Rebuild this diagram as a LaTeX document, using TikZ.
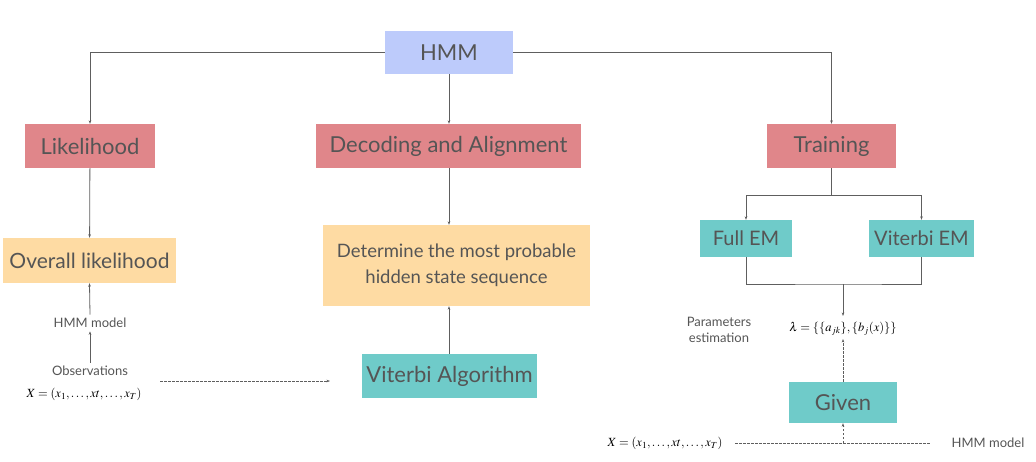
\documentclass[tikz,border=0pt]{standalone}
\usepackage{mathptmx}
\usepackage{fontspec}
\setmainfont{Lato}
\usetikzlibrary{arrows.meta,positioning}

\definecolor{topblue}{HTML}{BDCBFB}
\definecolor{taskred}{HTML}{E0868A}
\definecolor{resyellow}{HTML}{FEDBA3}
\definecolor{algteal}{HTML}{6FCBC9}
\definecolor{txtgray}{HTML}{555555}
\definecolor{linegray}{HTML}{5E5E5E}

\tikzset{
  box/.style={inner sep=0pt, text=txtgray, font=\fontsize{22}{26}\selectfont},
  topbox/.style={box, fill=topblue, minimum width=128pt, minimum height=43pt},
  taskbox/.style={box, fill=taskred, minimum height=44pt},
  resbox/.style={box, fill=resyellow},
  algbox/.style={box, fill=algteal},
  note/.style={text=txtgray, font=\fontsize{13}{16}\selectfont, align=center},
  formula/.style={text=black, font=\fontsize{12.5}{15}\selectfont},
  conn/.style={draw=linegray, line width=0.8pt, -{Stealth[length=3.5pt,width=2.6pt]}},
  plain/.style={draw=linegray, line width=0.8pt},
  dconn/.style={conn, dashed, dash pattern=on 2.5pt off 1.5pt},
}

\begin{document}
\begin{tikzpicture}[x=1pt,y=-1pt]

  \useasboundingbox (0,0) rectangle (1036,461);

  % Top level
  \node [topbox] (HMM) at (449,52.5) {HMM};

  % Tasks
  \node [taskbox, minimum width=130pt] (LH) at (90,146) {Likelihood};
  \node [taskbox, minimum width=265pt] (DA) at (448.5,146) {Decoding and Alignment};
  \node [taskbox, minimum width=129pt] (TR) at (831.5,146) {Training};

  % Results
  \node [resbox, minimum width=173pt, minimum height=45pt, font=\fontsize{21}{25}\selectfont] (OL) at (89.5,260.5) {Overall likelihood};
  \node [resbox, minimum width=267pt, minimum height=81pt, align=center,
         font=\fontsize{18.5}{25.5}\selectfont] (DS) at (456.5,265.5)
        {Determine the most probable\\hidden state sequence};

  % Algorithms
  \node [algbox, minimum width=175pt, minimum height=44pt] (VA) at (449.5,376) {Viterbi Algorithm};
  \node [algbox, minimum width=92pt, minimum height=37pt, font=\fontsize{20}{24}\selectfont] (FE) at (746,238.5) {Full EM};
  \node [algbox, minimum width=105pt, minimum height=37pt, font=\fontsize{20}{24}\selectfont] (VE) at (921.5,238.5) {Viterbi EM};
  \node [algbox, minimum width=108pt, minimum height=41pt] (GV) at (843,402.5) {Given};

  % Labels
  \node [note] (HM1) at (90,323) {HMM model};
  \node [note] (OBS) at (90,371) {Observations};
  \node [formula] (X1) at (84,394) {$X=(x_1,\ldots,xt,\ldots,x_T)$};
  \node [note] (PE) at (719,330) {Parameters\\estimation};
  \node [formula] (LAM) at (843,329) {$\lambda=\{\{a_{jk}\},\{b_j(x)\}\}$};
  \node [formula] (X2) at (665,443) {$X=(x_1,\ldots,xt,\ldots,x_T)$};
  \node [note] (HM2) at (988,443) {HMM model};

  % Top connectors
  \draw [conn] (HMM.west) -| (LH.north);
  \draw [conn] (HMM.east) -| (TR.north);
  \draw [conn] (HMM.south) -- (DA.north -| HMM.south);

  % Likelihood branch
  \draw [conn] (LH) -- (OL);
  \draw [conn] (HM1.north) -- (OL.south);
  \draw [conn] (OBS.north) -- (HM1.south);
  \draw [dconn] (160,381) -- (330,381);

  % Decoding branch
  \draw [conn] (DA.south -| HMM.south) -- (DS.north -| HMM.south);
  \draw [conn] (VA.north -| HMM.south) -- (DS.south -| HMM.south);

  % Training branch
  \coordinate (TRS) at (831.5,195);
  \draw [plain] (TR.south) -- (TRS);
  \draw [conn] (TRS) -| (FE.north);
  \draw [conn] (TRS) -| (VE.north);
  \coordinate (EMJ) at (843,284);
  \draw [plain] (FE.south) |- (EMJ) -| (VE.south);
  \draw [conn] (EMJ) -- (843,316);
  \draw [dconn] (GV.north) -- (843,339);

  % Bottom inputs
  \coordinate (BL) at (735,443);
  \coordinate (BR) at (930,443);
  \draw [plain, dashed, dash pattern=on 2.5pt off 1.5pt] (BL) -- (BR);
  \draw [dconn] (843,443) -- (GV.south);

\end{tikzpicture}
\end{document}
